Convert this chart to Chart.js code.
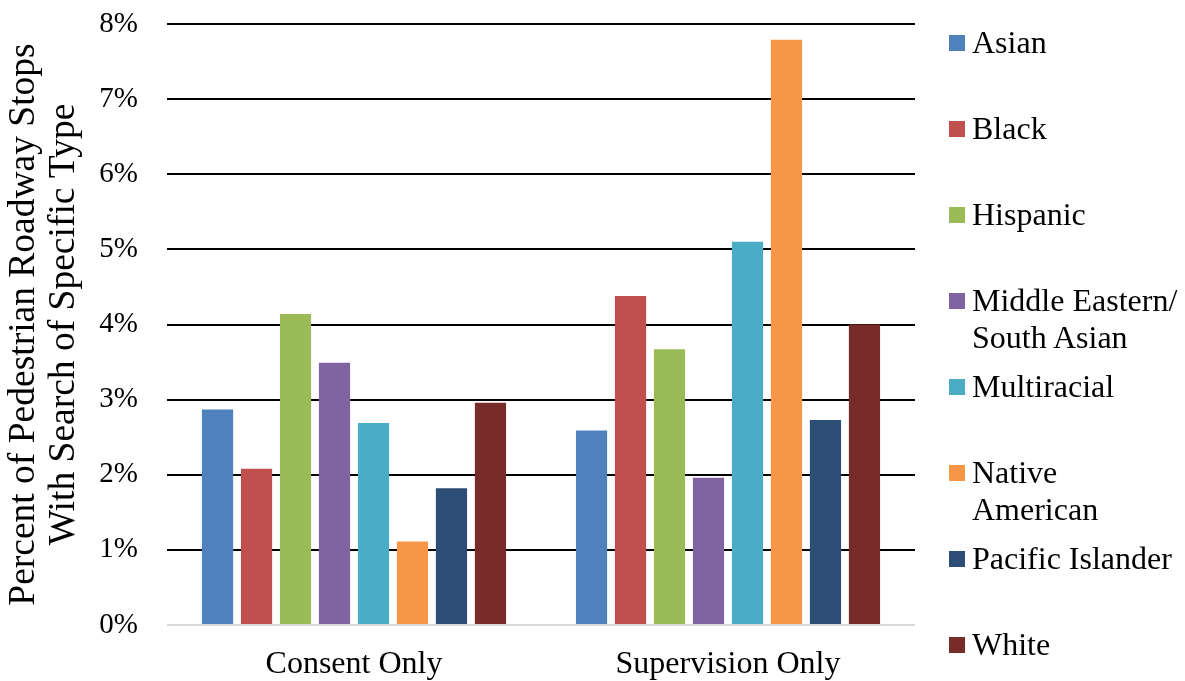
<!DOCTYPE html>
<html>
<head>
<meta charset="utf-8">
<script src="https://cdn.jsdelivr.net/npm/chart.js@4"></script>
<style>
  html, body { margin: 0; padding: 0; background: #fff; }
  #wrap { position: relative; width: 1185px; height: 681px; }
  #legend { position: absolute; left: 0; top: 0; width: 1185px; height: 681px; pointer-events: none;
            font-family: "Liberation Serif", "Times New Roman", serif; font-size: 32px; color: #000; }
  .sw { position: absolute; width: 16px; height: 16px; }
  .lt { position: absolute; line-height: 37px; white-space: pre-line; }
</style>
</head>
<body>
<div id="wrap">
  <canvas id="c" width="1185" height="681"></canvas>
  <div id="legend"></div>
</div>
<script>
// Search types (x categories)
const categories = ['Consent Only', 'Supervision Only'];

// Groups shown in the legend (\n marks a wrapped legend line)
const groups = ['Asian', 'Black', 'Hispanic', 'Middle Eastern/\nSouth Asian', 'Multiracial',
                'Native\nAmerican', 'Pacific Islander', 'White'];

// Percent of pedestrian roadway stops with a search of each type
const asian      = [2.87, 2.59];
const black      = [2.08, 4.38];
const hispanic   = [4.14, 3.67];
const midEastern = [3.49, 1.96];
const multiracial= [2.69, 5.10];
const nativeAm   = [1.11, 7.79];
const pacific    = [1.82, 2.73];
const white      = [2.96, 4.00];

const yTicks = [0, 1, 2, 3, 4, 5, 6, 7, 8];

const colors = ['#4F81BD', '#C0504D', '#9BBB59', '#8064A2', '#4BACC6', '#F79646', '#2C4D75', '#772C2A'];
const series = [asian, black, hispanic, midEastern, multiracial, nativeAm, pacific, white];

const serif = '"Liberation Serif", "Times New Roman", serif';

new Chart(document.getElementById('c'), {
  type: 'bar',
  data: {
    labels: categories,
    datasets: series.map((vals, i) => ({
      label: groups[i].replace('\n', ' '),
      data: vals,
      backgroundColor: colors[i],
      borderWidth: 0,
      barPercentage: 0.8,
      categoryPercentage: 0.834
    }))
  },
  options: {
    responsive: false,
    animation: false,
    layout: { padding: { top: 24, right: 270, left: 0, bottom: 0 } },
    plugins: { legend: { display: false }, tooltip: { enabled: false } },
    scales: {
      x: {
        grid: { display: false },
        border: { display: false },
        ticks: { color: '#000', font: { family: serif, size: 32 }, padding: 12 },
        afterFit: s => { s.height = 56; s.paddingLeft = 0; s.paddingRight = 0; }
      },
      y: {
        min: 0, max: 8,
        afterBuildTicks: s => { s.ticks = yTicks.map(v => ({ value: v })); },
        afterFit: s => { s.width = 167; s.paddingTop = 0; s.paddingBottom = 0; },
        border: { display: false },
        grid: {
          drawTicks: false,
          lineWidth: 2,
          color: c => (c.tick && c.tick.value === 0) ? '#d9d9d9' : '#000'
        },
        ticks: {
          color: '#000', padding: 29,
          font: { family: serif, size: 29 },
          callback: v => v + '%'
        },
        title: {
          display: true,
          text: ['Percent of Pedestrian Roadway Stops', 'With Search of Specific Type'],
          color: '#000',
          font: { family: serif, size: 37.5, lineHeight: 1.07 },
          padding: { top: 4, bottom: 0 }
        }
      }
    }
  }
});

// Legend built from the same group names and colours
const legend = document.getElementById('legend');
groups.forEach((g, i) => {
  const cy = 43 + i * 86;
  const sw = document.createElement('div');
  sw.className = 'sw';
  sw.style.left = '949px';
  sw.style.top = (cy - 8) + 'px';
  sw.style.background = colors[i];
  legend.appendChild(sw);
  const t = document.createElement('div');
  t.className = 'lt';
  t.style.left = '972px';
  t.style.top = (cy - 19) + 'px';
  t.textContent = g;
  legend.appendChild(t);
});
</script>
</body>
</html>
